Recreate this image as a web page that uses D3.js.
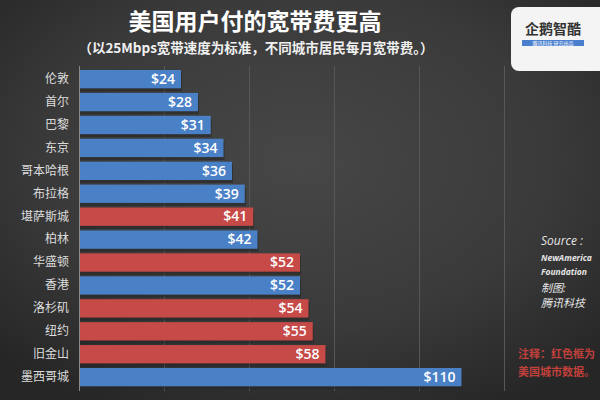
<!DOCTYPE html>
<html><head><meta charset="utf-8">
<script src="https://cdn.jsdelivr.net/npm/d3@7"></script>
<style>html,body{margin:0;padding:0;background:#333;}svg{display:block;}</style>
</head><body>
<script>
const cities = ['伦敦','首尔','巴黎','东京','哥本哈根','布拉格','堪萨斯城','柏林','华盛顿','香港','洛杉矶','纽约','旧金山','墨西哥城'];
const prices = [24,28,31,34,36,39,41,42,52,52,54,55,58,110];
const usCity = [false,false,false,false,false,false,true,false,true,false,true,true,true,false];
const gridTicks = [0,20,40,60,80,100];
const titleText = '美国用户付的宽带费更高';
const subtitleText = '（以25Mbps宽带速度为标准，不同城市居民每月宽带费。）';
const sourceLines = ['Source :','NewAmerica','Foundation','制图:','腾讯科技'];
const noteLines = ['注释：红色框为','美国城市数据。'];

const W = 600, H = 400;
const svg = d3.select('body').append('svg').attr('width', W).attr('height', H);
const defs = svg.append('defs');
const rg = defs.append('radialGradient').attr('id','bg').attr('cx','50%').attr('cy','40%').attr('r','70%');
rg.append('stop').attr('offset','0%').attr('stop-color','#474747');
rg.append('stop').attr('offset','60%').attr('stop-color','#3a3a3a');
rg.append('stop').attr('offset','100%').attr('stop-color','#262626');
svg.append('rect').attr('width',W).attr('height',H).attr('fill','url(#bg)');

const cBlue = '#4a80c6', cRed = '#c54a48';

// grid scale (linear) and bar scale (with a break beyond 60 for the long bar)
const x = d3.scaleLinear().domain([0,100]).range([79,504]);
const xb = d3.scaleLinear().domain([0,60,110]).range([x(0), x(60), x(90)]);
const y = d3.scaleBand().domain(cities).range([67.7,388.6]).paddingInner(0.2).paddingOuter(0.1);

// gridlines
svg.append('g').selectAll('line').data(gridTicks.slice(1)).join('line')
  .attr('x1',d=>x(d)+0.5).attr('x2',d=>x(d)+0.5).attr('y1',66).attr('y2',391)
  .attr('stroke','#575757').attr('stroke-width',1);

// bar shadows
svg.append('g').selectAll('rect').data(cities).join('rect')
  .attr('x', x(0)).attr('y', d=>y(d)+3).attr('height', y.bandwidth())
  .attr('width', (d,i)=>xb(prices[i])-x(0)+1)
  .attr('fill','#262626').attr('opacity',0.6);

// bars
svg.append('g').selectAll('rect').data(cities).join('rect')
  .attr('x', x(0)).attr('y', d=>y(d)).attr('height', y.bandwidth())
  .attr('width', (d,i)=>xb(prices[i])-x(0))
  .attr('fill', (d,i)=>usCity[i]?cRed:cBlue);

// value labels
svg.append('g').selectAll('text').data(cities).join('text')
  .attr('x',(d,i)=>xb(prices[i])-6).attr('y',d=>y(d)+y.bandwidth()/2+1)
  .attr('text-anchor','end').attr('dominant-baseline','middle')
  .attr('fill','#ffffff').attr('font-family','"Open Sans", "Noto Sans", sans-serif')
  .attr('font-weight',600).attr('font-size',14)
  .text((d,i)=>'$'+prices[i]);

// y axis
const yAxis = d3.axisLeft(y).tickSize(0).tickPadding(10);
const ga = svg.append('g').attr('transform',`translate(${x(0)},0)`).call(yAxis);
ga.select('.domain').attr('stroke','#8a8a8a').attr('d',`M0.5,66V391`);
ga.selectAll('text').attr('fill','#dcdcdc').attr('font-size',12)
  .attr('font-family','"Noto Sans CJK SC", sans-serif');

// title
svg.append('text').attr('x',255).attr('y',30).attr('text-anchor','middle')
  .attr('fill','#ffffff').attr('font-size',23).attr('font-weight',700)
  .attr('font-family','"Noto Sans CJK SC", sans-serif').text(titleText);
svg.append('text').attr('x',256).attr('y',53).attr('text-anchor','middle')
  .attr('fill','#f0f0f0').attr('font-size',13.5).attr('font-weight',700)
  .attr('font-family','"Noto Sans CJK SC", sans-serif').text(subtitleText);

// logo
const lg = svg.append('g');
lg.append('rect').attr('x',511).attr('y',7).attr('width',100).attr('height',64).attr('rx',8)
  .attr('fill','#f4f4f4');
lg.append('text').attr('x',553).attr('y',34).attr('text-anchor','middle')
  .attr('fill','#333').attr('font-size',14).attr('font-weight',700)
  .attr('font-family','"Noto Sans CJK SC", sans-serif').text('企鹅智酷');
lg.append('rect').attr('x',522).attr('y',40).attr('width',62).attr('height',6).attr('fill','#4a7fd0');
lg.append('text').attr('x',553).attr('y',45).attr('text-anchor','middle')
  .attr('fill','#ffffff').attr('font-size',5)
  .attr('font-family','"Noto Sans CJK SC", sans-serif').text('腾讯科技  研究出品');

// source
const srcY = [245,261,275,292,307];
const srcSize = [12,8.5,8.5,11,11];
svg.append('g').selectAll('text').data(sourceLines).join('text')
  .attr('x',541).attr('y',(d,i)=>srcY[i]).attr('fill','#e6e6e6')
  .attr('font-size',(d,i)=>srcSize[i]).attr('font-style','italic')
  .attr('font-weight',(d,i)=>(i===1||i===2)?700:400)
  .attr('font-family','"Open Sans", "Noto Sans CJK SC", sans-serif').text(d=>d);

// note
svg.append('g').selectAll('text').data(noteLines).join('text')
  .attr('x',518).attr('y',(d,i)=>358+i*18).attr('fill','#c0403c')
  .attr('font-size',11).attr('font-weight',700)
  .attr('font-family','"Noto Sans CJK SC", sans-serif').text(d=>d);
</script>
</body></html>
